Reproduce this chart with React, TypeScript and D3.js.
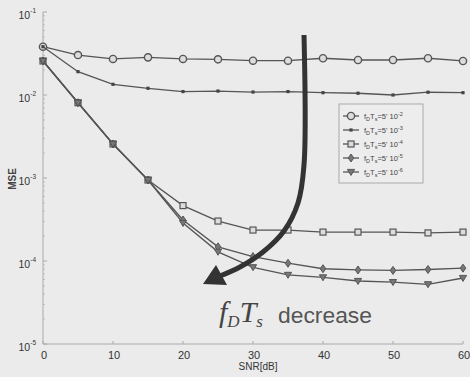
import { useRef, useEffect } from 'react';
import * as d3 from 'd3';

const snr = [0, 5, 10, 15, 20, 25, 30, 35, 40, 45, 50, 55, 60];

const fd2 = [0.0382, 0.0303, 0.0272, 0.0284, 0.0272, 0.0269, 0.0259, 0.0259, 0.0277, 0.0264, 0.0264, 0.0277, 0.0257];
const fd3 = [0.0382, 0.0191, 0.01345, 0.01205, 0.011, 0.01116, 0.01086, 0.011, 0.01066, 0.0105, 0.01, 0.0108, 0.01066];
const fd4 = [0.0257, 0.00807, 0.00257, 0.000946, 0.000465, 0.000303, 0.000236, 0.000236, 0.000223, 0.000223, 0.000223, 0.000218, 0.000223];
const fd5 = [0.0257, 0.00807, 0.00257, 0.000946, 0.000312, 0.000148, 0.000113, 0.000094, 0.0000807, 0.000078, 0.000077, 0.000079, 0.000082];
const fd6 = [0.0257, 0.00807, 0.00257, 0.000946, 0.000287, 0.000129, 0.000084, 0.000068, 0.0000635, 0.0000574, 0.0000556, 0.0000524, 0.0000624];

const seriesNames = ['-2', '-3', '-4', '-5', '-6'];
const markers = ['circle', 'dot', 'square', 'diamond', 'triangle'];

const xTicks = [0, 10, 20, 30, 40, 50, 60];
const yExps = [-1, -2, -3, -4, -5];

function App() {
  const svgRef = useRef(null);
  const width = 470;
  const height = 377;

  useEffect(() => {
    const svg = d3.select(svgRef.current);
    svg.selectAll('*').remove();

    const x = d3.scaleLinear().domain([0, 60]).range([43, 463]);
    const y = d3.scaleLog().domain([1e-5, 1e-1]).range([344, 12]);
    const font = 'Liberation Sans, Arial, sans-serif';
    const serif = 'Liberation Serif, Times New Roman, serif';
    const ink = '#555';

    svg.append('rect').attr('width', width).attr('height', height).attr('fill', '#ebebeb');

    // axes
    svg.append('line').attr('x1', x(0)).attr('x2', x(0)).attr('y1', y(1e-1)).attr('y2', y(1e-5))
      .attr('stroke', '#aaa').attr('stroke-width', 1);
    svg.append('line').attr('x1', x(0)).attr('x2', x(60)).attr('y1', y(1e-5)).attr('y2', y(1e-5))
      .attr('stroke', '#aaa').attr('stroke-width', 1);

    xTicks.forEach((t) => {
      svg.append('line').attr('x1', x(t)).attr('x2', x(t)).attr('y1', y(1e-5)).attr('y2', y(1e-5) - 3)
        .attr('stroke', '#aaa');
      svg.append('text').attr('x', x(t) + 1).attr('y', 359).attr('text-anchor', 'middle')
        .attr('font-family', font).attr('font-size', 11).attr('fill', '#333').text(t);
    });

    // minor log ticks
    for (let e = -5; e < -1; e++) {
      for (let m = 2; m < 10; m++) {
        const v = m * Math.pow(10, e);
        svg.append('line').attr('x1', x(0)).attr('x2', x(0) + 2).attr('y1', y(v)).attr('y2', y(v))
          .attr('stroke', '#bbb');
      }
    }

    yExps.forEach((e) => {
      const yy = y(Math.pow(10, e));
      svg.append('line').attr('x1', x(0)).attr('x2', x(0) + 4).attr('y1', yy).attr('y2', yy).attr('stroke', '#aaa');
      const t = svg.append('text').attr('x', 36).attr('y', yy + 7).attr('text-anchor', 'end')
        .attr('font-family', font).attr('font-size', 10.5).attr('fill', '#333');
      t.append('tspan').text('10');
      t.append('tspan').attr('dy', -6).attr('font-size', 6.5).text(String(e));
    });

    svg.append('text').attr('transform', 'translate(16,179) rotate(-90)').attr('text-anchor', 'middle')
      .attr('font-family', font).attr('font-size', 10).attr('font-weight', 700).attr('fill', '#444').text('MSE');
    svg.append('text').attr('x', 258).attr('y', 370).attr('text-anchor', 'middle')
      .attr('font-family', font).attr('font-size', 10).attr('fill', '#333').text('SNR[dB]');

    const all = [fd2, fd3, fd4, fd5, fd6];
    const line = d3.line().x((d) => x(d[0])).y((d) => y(d[1]));

    const drawMarker = (g, kind, cx, cy) => {
      if (kind === 'circle') {
        g.append('circle').attr('cx', cx).attr('cy', cy).attr('r', 3.6)
          .attr('fill', '#ddd').attr('stroke', ink).attr('stroke-width', 1.4);
      } else if (kind === 'dot') {
        g.append('rect').attr('x', cx - 1.6).attr('y', cy - 1.6).attr('width', 3.2).attr('height', 3.2).attr('fill', '#444');
      } else if (kind === 'square') {
        g.append('rect').attr('x', cx - 3).attr('y', cy - 3).attr('width', 6).attr('height', 6)
          .attr('fill', '#ddd').attr('stroke', ink).attr('stroke-width', 1.2);
      } else if (kind === 'diamond') {
        g.append('path').attr('d', `M${cx},${cy - 4}L${cx + 2.8},${cy}L${cx},${cy + 4}L${cx - 2.8},${cy}Z`)
          .attr('fill', '#777').attr('stroke', ink).attr('stroke-width', 1);
      } else {
        g.append('path').attr('d', `M${cx - 3.6},${cy - 2.6}L${cx + 3.6},${cy - 2.6}L${cx},${cy + 3.4}Z`)
          .attr('fill', '#777').attr('stroke', ink).attr('stroke-width', 1);
      }
    };

    all.forEach((vals, i) => {
      const pts = snr.map((s, j) => [s, vals[j]]);
      const g = svg.append('g');
      g.append('path').attr('d', line(pts)).attr('fill', 'none').attr('stroke', ink).attr('stroke-width', 1.3);
      pts.forEach((p) => drawMarker(g, markers[i], x(p[0]), y(p[1])));
    });

    // legend
    const lg = svg.append('g');
    lg.append('rect').attr('x', 339).attr('y', 104).attr('width', 84).attr('height', 79)
      .attr('fill', '#ededed').attr('stroke', '#aaa').attr('stroke-width', 1);
    seriesNames.forEach((n, i) => {
      const ly = 116 + i * 14;
      lg.append('line').attr('x1', 343).attr('x2', 359).attr('y1', ly).attr('y2', ly).attr('stroke', ink).attr('stroke-width', 1.3);
      drawMarker(lg, markers[i], 351, ly);
      const t = lg.append('text').attr('x', 364).attr('y', ly + 3).attr('font-family', font)
        .attr('font-size', 7.5).attr('fill', '#444');
      t.append('tspan').text('f');
      t.append('tspan').attr('dy', 2).attr('font-size', 5.5).text('D');
      t.append('tspan').attr('dy', -2).text('T');
      t.append('tspan').attr('dy', 2).attr('font-size', 5.5).text('s');
      t.append('tspan').attr('dy', -2).text("=5' 10");
      t.append('tspan').attr('dy', -3).attr('font-size', 5.5).text(n);
    });

    // arrow annotation
    const arrowPts = [[304, 35], [304, 165], [298, 203], [284, 231], [263, 252], [240, 267], [220, 276]];
    const curve = d3.line().curve(d3.curveCatmullRom);
    svg.append('path').attr('d', curve(arrowPts)).attr('fill', 'none').attr('stroke', '#333')
      .attr('stroke-width', 5).attr('stroke-linecap', 'butt');
    svg.append('path').attr('d', 'M203,284L216,265L227,285Z').attr('fill', '#333');

    const ann = svg.append('text').attr('x', 219).attr('y', 322).attr('fill', '#444')
      .attr('font-family', serif).attr('font-style', 'italic');
    ann.append('tspan').attr('font-size', 30).text('f');
    ann.append('tspan').attr('font-size', 17).attr('dy', 5).text('D');
    ann.append('tspan').attr('font-size', 30).attr('dy', -5).text('T');
    ann.append('tspan').attr('font-size', 17).attr('dy', 5).text('s');
    svg.append('text').attr('x', 278).attr('y', 323).attr('fill', '#555')
      .attr('font-family', font).attr('font-size', 22)
      .attr('textLength', 94).attr('lengthAdjust', 'spacingAndGlyphs').text('decrease');
  }, []);

  return (
    <svg ref={svgRef} width={width} height={height}
      style={{ position: 'absolute', left: 0, top: 0, display: 'block' }}></svg>
  );
}

export default App;
